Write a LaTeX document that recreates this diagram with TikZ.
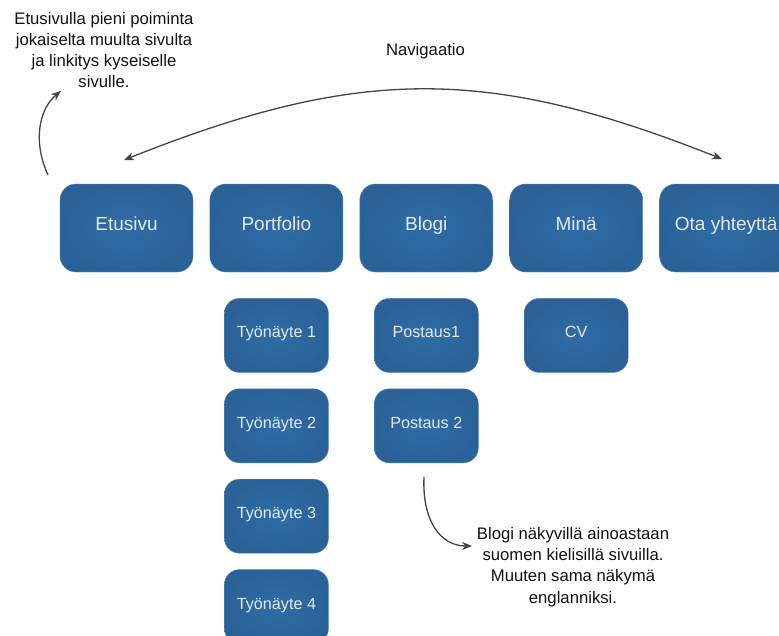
\documentclass[tikz,border=0pt]{standalone}
\usepackage{fontspec}
\setmainfont{Liberation Sans}
\usetikzlibrary{arrows.meta, positioning}
\definecolor{boxout}{RGB}{42,98,152}
\definecolor{boxin}{RGB}{47,108,166}
\definecolor{boxedge}{RGB}{80,128,176}
\definecolor{boxtext}{RGB}{228,234,241}
\definecolor{arrowgray}{RGB}{68,68,68}
\definecolor{notegray}{RGB}{17,17,17}
\tikzset{%
	pagebox/.style={rectangle, rounded corners=16pt, inner color=boxin, outer color=boxout,%
		draw=boxedge, line width=0.4pt, text=boxtext, minimum width=133pt, minimum height=88pt,%
		inner sep=0pt, text height=0.72em, text depth=0.21em, font=\fontsize{19}{22}\selectfont},
	subbox/.style={pagebox, rounded corners=15pt, minimum width=104pt, minimum height=74pt,%
		font=\fontsize{16.2}{19}\selectfont},
	note/.style={align=center, inner sep=0pt, text=notegray, font=\fontsize{16.7}{21.3}\selectfont},
	link/.style={-{Stealth[length=10pt, width=8pt]}, line width=1.3pt, draw=arrowgray},
	navlink/.style={link, {Stealth[length=10pt, width=8pt]}-{Stealth[length=10pt, width=8pt]}}
}
\begin{document}
\begin{tikzpicture}[x=1pt, y=-1pt]
	\clip (0,0) rectangle (779,635);

	\node[pagebox] (etu) at (126.5,228) {Etusivu};
	\node[pagebox, right=16.5pt of etu] (port) {Portfolio};
	\node[pagebox, right=16.5pt of port] (blog) {Blogi};
	\node[pagebox, right=16.5pt of blog] (mina) {Minä};
	\node[pagebox, right=16.5pt of mina] (yht) {Ota yhteyttä};

	\node[subbox, below=26pt of port] (tyo1) {Työnäyte 1};
	\node[subbox, below=16pt of tyo1] (tyo2) {Työnäyte 2};
	\node[subbox, below=16pt of tyo2] (tyo3) {Työnäyte 3};
	\node[subbox, below=16pt of tyo3] (tyo4) {Työnäyte 4};
	\node[subbox, below=26pt of blog] (post1) {Postaus1};
	\node[subbox, below=16pt of post1] (post2) {Postaus 2};
	\node[subbox, below=26pt of mina] (cv) {CV};

	\node[note] (nav) at (425.5,51.5) {Navigaatio};
	\node[note] (etunote) at (104,50) {Etusivulla pieni poiminta\\jokaiselta muulta sivulta\\ja linkitys kyseiselle\\sivulle.};
	\node[note] (blognote) at (573,567) {Blogi näkyvillä ainoastaan\\suomen kielisillä sivuilla.\\Muuten sama näkymä\\englanniksi.};

	\coordinate (navL) at (124,160);
	\coordinate (navR) at (722,159);
	\coordinate (etuA) at (48,175);
	\coordinate (etuB) at (61,91);
	\coordinate (postA) at (424,477);
	\coordinate (postB) at (472,546);

	\draw[navlink] (navL) .. controls (360,66) and (488,66) .. (navR);
	\draw[link] (etuA) .. controls (32,140) and (40,108) .. (etuB);
	\draw[link] (postA) .. controls (422,520) and (440,546) .. (postB);
\end{tikzpicture}
\end{document}
